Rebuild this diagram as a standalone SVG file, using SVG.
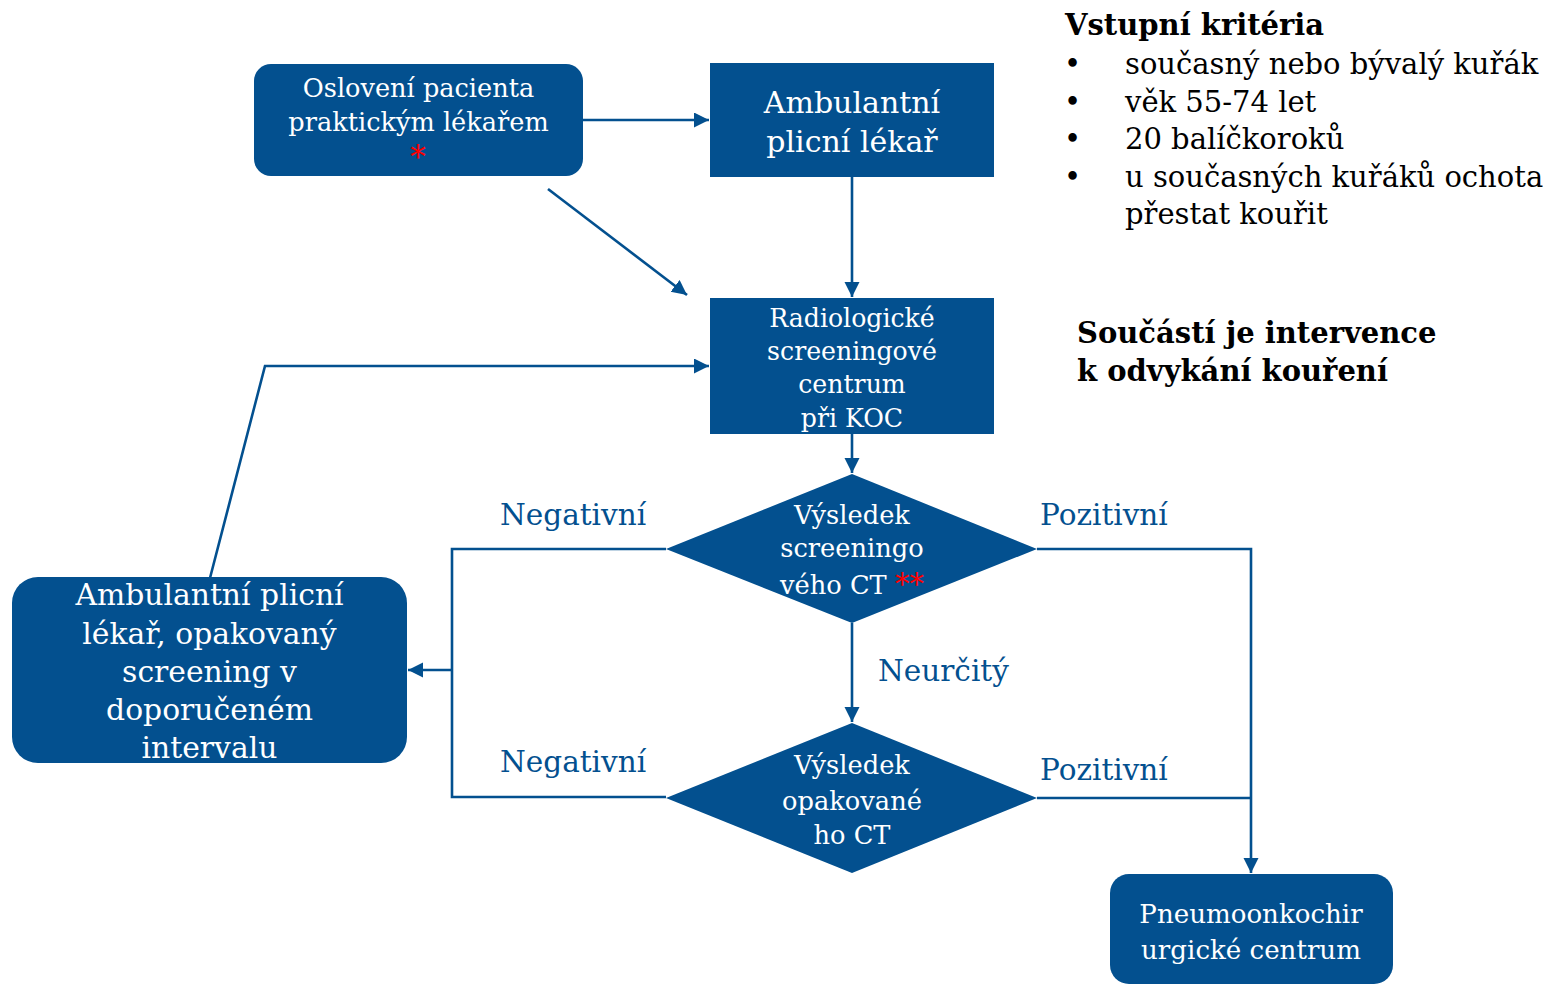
<svg xmlns="http://www.w3.org/2000/svg" width="1547" height="985" viewBox="0 0 1547 985">
<style>
.node{fill:#03508f}
.nt{font-family:"DejaVu Serif","Liberation Serif",serif;fill:#ffffff;text-anchor:middle}
.lbl{font-family:"DejaVu Serif","Liberation Serif",serif;fill:#03508f;font-size:29.5px}
.side{font-family:"DejaVu Serif","Liberation Serif",serif;fill:#000000;font-size:29px}
.bold{font-weight:bold}
.edge{fill:none;stroke:#03508f;stroke-width:2.6}
.red{fill:#ff0000}
</style>
<defs>
<marker id="arr" markerUnits="userSpaceOnUse" markerWidth="16" markerHeight="16" refX="15" refY="7.5" orient="auto">
<path d="M0,0 L15,7.5 L0,15 z" fill="#03508f"/>
</marker>
</defs>
<rect width="1547" height="985" fill="#ffffff"/>
<g id="connectors">
<path class="edge" d="M583,120 L709,120" marker-end="url(#arr)"/>
<path class="edge" d="M852,177 L852,297" marker-end="url(#arr)"/>
<path class="edge" d="M548,189 L687,295" marker-end="url(#arr)"/>
<path class="edge" d="M210,578 L265,366 L709,366" marker-end="url(#arr)"/>
<path class="edge" d="M852,434 L852,473" marker-end="url(#arr)"/>
<path class="edge" d="M852,623 L852,722" marker-end="url(#arr)"/>
<path class="edge" d="M666,549 L452,549 L452,797 L666,797"/>
<path class="edge" d="M452,670 L408,670" marker-end="url(#arr)"/>
<path class="edge" d="M1037,549 L1251,549 L1251,873" marker-end="url(#arr)"/>
<path class="edge" d="M1037,798 L1251,798"/>
</g>
<g id="n-osloveni">
<rect class="node" x="254" y="64" width="329" height="112" rx="17"/>
<text class="nt" font-size="25.6" x="418.5" y="97">Oslovení pacienta</text>
<text class="nt" font-size="25.6" x="418.5" y="131">praktickým lékařem</text>
<text class="nt red" font-size="31" x="418" y="168">*</text>
</g>
<g id="n-ambulantni">
<rect class="node" x="710" y="63" width="284" height="114"/>
<text class="nt" font-size="30" x="852" y="113">Ambulantní</text>
<text class="nt" font-size="30" x="852" y="152">plicní lékař</text>
</g>
<g id="n-radiologicke">
<rect class="node" x="710" y="298" width="284" height="136"/>
<text class="nt" font-size="25.2" x="852" y="327">Radiologické</text>
<text class="nt" font-size="25.2" x="852" y="360">screeningové</text>
<text class="nt" font-size="25.2" x="852" y="393">centrum</text>
<text class="nt" font-size="25.2" x="852" y="427">při KOC</text>
</g>
<g id="n-vysledek1">
<polygon class="node" points="852,474 1037,549 852,623 666,549"/>
<text class="nt" font-size="25.7" x="852" y="524">Výsledek</text>
<text class="nt" font-size="25.7" x="852" y="557">screeningo</text>
<text class="nt" font-size="25.7" x="852" y="594">vého CT <tspan class="red" font-size="29">**</tspan></text>
</g>
<g id="n-vysledek2">
<polygon class="node" points="852,723 1037,798 852,873 666,798"/>
<text class="nt" font-size="25.7" x="852" y="774">Výsledek</text>
<text class="nt" font-size="25.7" x="852" y="810">opakované</text>
<text class="nt" font-size="25.7" x="852" y="844">ho CT</text>
</g>
<g id="n-opakovany">
<rect class="node" x="12" y="577" width="395" height="186" rx="26"/>
<text class="nt" font-size="29.8" x="209.5" y="605">Ambulantní plicní</text>
<text class="nt" font-size="29.8" x="209.5" y="644">lékař, opakovaný</text>
<text class="nt" font-size="29.8" x="209.5" y="682">screening v</text>
<text class="nt" font-size="29.8" x="209.5" y="720">doporučeném</text>
<text class="nt" font-size="29.8" x="209.5" y="758">intervalu</text>
</g>
<g id="n-pneumo">
<rect class="node" x="1110" y="874" width="283" height="110" rx="19"/>
<text class="nt" font-size="26.1" x="1251" y="923">Pneumoonkochir</text>
<text class="nt" font-size="26.1" x="1251" y="959">urgické centrum</text>
</g>
<g id="labels">
<text class="lbl" x="500" y="525">Negativní</text>
<text class="lbl" x="500" y="772">Negativní</text>
<text class="lbl" x="1040" y="525">Pozitivní</text>
<text class="lbl" x="1040" y="780">Pozitivní</text>
<text class="lbl" x="878" y="681">Neurčitý</text>
</g>
<g id="criteria">
<text class="side bold" font-size="29.8" x="1065" y="35">Vstupní kritéria</text>
<text class="side" x="1064" y="74">•</text>
<text class="side" x="1125" y="74">současný nebo bývalý kuřák</text>
<text class="side" x="1064" y="111.5">•</text>
<text class="side" x="1125" y="111.5">věk 55-74 let</text>
<text class="side" x="1064" y="149">•</text>
<text class="side" x="1125" y="149">20 balíčkoroků</text>
<text class="side" x="1064" y="187">•</text>
<text class="side" x="1125" y="187">u současných kuřáků ochota</text>
<text class="side" x="1125" y="224">přestat kouřit</text>
</g>
<g id="intervence">
<text class="side bold" font-size="29.1" x="1077" y="343">Součástí je intervence</text>
<text class="side bold" font-size="29.1" x="1077" y="381">k odvykání kouření</text>
</g>
</svg>
